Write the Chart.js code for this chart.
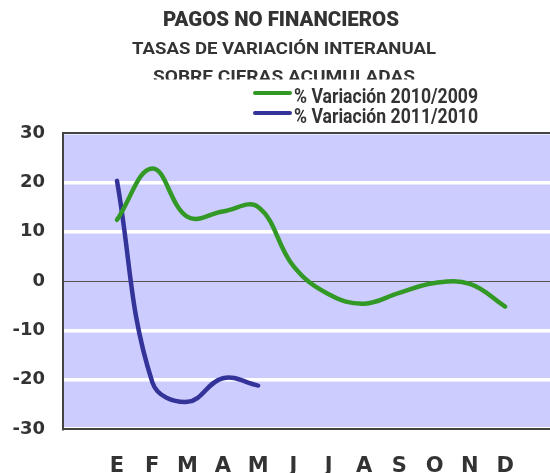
<!DOCTYPE html>
<html>
<head>
<meta charset="utf-8">
<script src="https://cdn.jsdelivr.net/npm/chart.js@4.4.1/dist/chart.umd.min.js"></script>
<style>
  html, body { margin: 0; padding: 0; background: #fff; }
  #wrap { width: 550px; height: 473px; }
</style>
</head>
<body>
<div id="wrap"><canvas id="myChart" width="550" height="473"></canvas></div>
<script>
const months = ["E", "F", "M", "A", "M", "J", "J", "A", "S", "O", "N", "D"];
const yTicks = [30, 20, 10, 0, -10, -20, -30];
const var2010 = [12.4, 22.8, 13.0, 14.1, 15.0, 3.0, -2.7, -4.6, -2.4, -0.4, -0.6, -5.2];
const var2011 = [20.3, -20.5, -24.5, -19.7, -21.2];
const seriesLabels = ["% Variación 2010/2009", "% Variación 2011/2010"];
const titleLines = ["PAGOS NO FINANCIEROS", "TASAS DE VARIACIÓN INTERANUAL", "SOBRE CIFRAS ACUMULADAS"];

const GREEN = "#339926";
const BLUE = "#333399";
const TEXT = "#333333";
const NARROW = "Roboto, 'Liberation Sans', sans-serif";
const BOLD = "'DejaVu Sans', Verdana, sans-serif";

// draw text squeezed to a given width
function drawFit(ctx, text, x, y, font, width, align) {
    ctx.save();
    ctx.font = font;
    const w = ctx.measureText(text).width;
    ctx.translate(x, y);
    ctx.scale(width / w, 1);
    ctx.textAlign = align || "center";
    ctx.textBaseline = "alphabetic";
    ctx.fillStyle = TEXT;
    ctx.fillText(text, 0, 0);
    ctx.restore();
}

const header = {
    id: "header",
    beforeDraw(chart) {
        const {ctx, chartArea: a} = chart;
        ctx.save();
        ctx.fillStyle = "#CCCCFF";
        ctx.fillRect(a.left, a.top, a.right - a.left, a.bottom - a.top);
        ctx.restore();
    },
    afterDraw(chart) {
        const {ctx, chartArea: a} = chart;
        // top border of plot area
        ctx.save();
        ctx.strokeStyle = "#444";
        ctx.lineWidth = 2;
        ctx.beginPath();
        ctx.moveTo(a.left, a.top);
        ctx.lineTo(a.right, a.top);
        ctx.stroke();
        ctx.restore();

        drawFit(ctx, titleLines[0], 281, 26, "900 20px " + NARROW, 236);
        drawFit(ctx, titleLines[1], 284, 54, "bold 17px " + NARROW, 304);
        // third line is partly hidden under the legend box
        ctx.save();
        ctx.beginPath();
        ctx.rect(0, 0, 550, 79.5);
        ctx.clip();
        drawFit(ctx, titleLines[2], 284, 82, "bold 17px " + NARROW, 262);
        ctx.restore();

        // legend
        const colors = [GREEN, BLUE];
        const rows = [93, 113];
        seriesLabels.forEach((lab, i) => {
            ctx.save();
            ctx.strokeStyle = colors[i];
            ctx.lineWidth = 4;
            ctx.lineCap = "round";
            ctx.beginPath();
            ctx.moveTo(255, rows[i]);
            ctx.lineTo(290, rows[i]);
            ctx.stroke();
            ctx.restore();
            drawFit(ctx, lab, 294, rows[i] + 10, "bold 21px " + NARROW, 184, "left");
        });
    }
};

const ctx = document.getElementById("myChart").getContext("2d");
new Chart(ctx, {
    type: "line",
    data: {
        datasets: [
            {
                label: seriesLabels[0],
                data: var2010.map((v, i) => ({x: i, y: v})),
                borderColor: GREEN,
                borderWidth: 4.5,
                tension: 0.4,
                pointRadius: 0,
                borderCapStyle: "round",
                fill: false
            },
            {
                label: seriesLabels[1],
                data: var2011.map((v, i) => ({x: i, y: v})),
                borderColor: BLUE,
                borderWidth: 4.5,
                tension: 0.4,
                pointRadius: 0,
                borderCapStyle: "round",
                fill: false
            }
        ]
    },
    options: {
        responsive: false,
        animation: false,
        layout: {padding: {top: 133, left: 0, right: 0, bottom: 0}},
        plugins: {
            legend: {display: false},
            title: {display: false},
            tooltip: {enabled: false}
        },
        scales: {
            x: {
                type: "linear",
                min: -1.53,
                max: 12.27,
                afterFit: (s) => {
                    s.height = 44;
                    s.paddingLeft = 0;
                    s.paddingRight = 0;
                },
                grid: {display: false, drawTicks: false},
                border: {display: true, color: "#444", width: 2},
                ticks: {
                    stepSize: 1,
                    includeBounds: false,
                    autoSkip: false,
                    maxRotation: 0,
                    padding: 25,
                    color: TEXT,
                    font: {family: BOLD, size: 21, weight: "bold"},
                    callback: (v) => months[v] || ""
                }
            },
            y: {
                min: -30,
                max: 30,
                afterFit: (s) => { s.width = 63; },
                afterBuildTicks: (s) => { s.ticks = yTicks.map((v) => ({value: v})); },
                grid: {
                    drawTicks: false,
                    color: (c) => (c.tick && c.tick.value === 0 ? "#555" : "#ffffff"),
                    lineWidth: (c) => (c.tick && c.tick.value === 0 ? 1 : 3.5)
                },
                border: {display: true, color: "#444", width: 2},
                ticks: {
                    padding: 18,
                    color: TEXT,
                    font: {family: BOLD, size: 18, weight: "bold"}
                }
            }
        }
    },
    plugins: [header]
});
</script>
</body>
</html>
